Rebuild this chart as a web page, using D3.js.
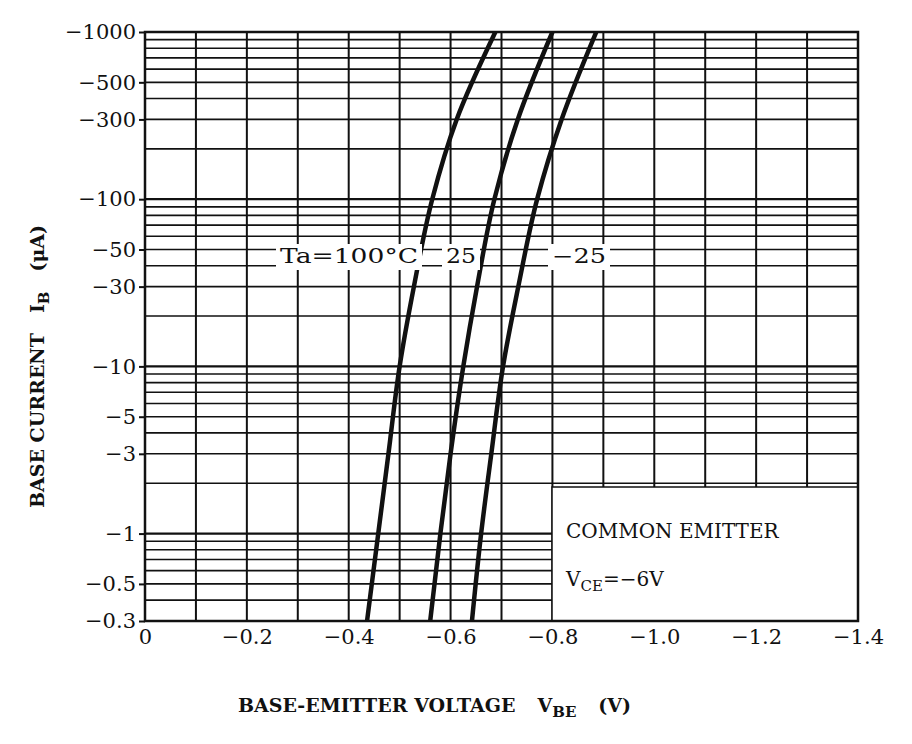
<!DOCTYPE html><html><head><meta charset="utf-8"><script src="https://cdn.jsdelivr.net/npm/d3@7"></script>
<style>body{margin:0;background:#fff}text{font-family:"DejaVu Serif","Liberation Serif",serif;fill:#111;white-space:pre}</style></head><body>
<svg id="c" width="912" height="744"></svg>
<script>
const xTicks=[0,-0.2,-0.4,-0.6,-0.8,-1.0,-1.2,-1.4];
const xTickLabels=["0","−0.2","−0.4","−0.6","−0.8","−1.0","−1.2","−1.4"];
const yTicks=[0.3,0.5,1,3,5,10,30,50,100,300,500,1000];
const yTickLabels=["−0.3","−0.5","−1","−3","−5","−10","−30","−50","−100","−300","−500","−1000"];
const curveI=[0.3,1,3,10,30,100,300,1000];
const v100=[0.436,0.458,0.478,0.50,0.528,0.564,0.612,0.688];
const v25=[0.56,0.58,0.600,0.625,0.652,0.686,0.732,0.80];
const vm25=[0.642,0.660,0.680,0.703,0.733,0.770,0.818,0.886];
const series=[v100,v25,vm25];
const svg=d3.select("#c");
const L=145,R=858,T=32,B=621;
const x=d3.scaleLinear().domain([0,1.4]).range([L,R]);
const y=d3.scaleLog().domain([0.3,1000]).range([B,T]);
const g=svg.append("g");
for(let v=0.1;v<1.4;v+=0.1) g.append("line").attr("x1",x(v)).attr("x2",x(v)).attr("y1",T).attr("y2",B).attr("stroke","#111").attr("stroke-width",2);
const minors=[];[0.1,1,10,100].forEach(d=>{for(let k=1;k<10;k++){const v=d*k;if(v>=0.3&&v<=1000)minors.push(v);}});minors.push(1000);
minors.forEach(v=>g.append("line").attr("x1",L).attr("x2",R).attr("y1",y(v)).attr("y2",y(v)).attr("stroke","#111").attr("stroke-width",v===1||v===10||v===100?2.2:1.6));
g.append("rect").attr("x",552).attr("y",487).attr("width",R-552).attr("height",B-487).attr("fill","#fff").attr("stroke","#111").attr("stroke-width",1.5);
g.append("rect").attr("x",L).attr("y",T).attr("width",R-L).attr("height",B-T).attr("fill","none").attr("stroke","#111").attr("stroke-width",2.5);
const line=d3.line().x(d=>x(d)).y((d,i)=>y(curveI[i])).curve(d3.curveMonotoneY);
series.forEach(s=>g.append("path").attr("d",line(s)).attr("fill","none").attr("stroke","#111").attr("stroke-width",4.5));
function lab(t,xx,yy,w){g.append("rect").attr("x",xx-4).attr("y",yy-19).attr("width",w).attr("height",26).attr("fill","#fff");g.append("text").attr("x",xx).attr("y",yy).attr("font-size",20).attr("textLength",w-8).attr("lengthAdjust","spacingAndGlyphs").text(t);}
lab("Ta=100°C",280,263,146);lab("25",446,263,38);lab("−25",552,263,62);
svg.append("g").attr("transform",`translate(0,${B})`).call(d3.axisBottom(x).tickValues(xTicks.map(Math.abs)).tickFormat((d,i)=>xTickLabels[i]).tickSize(0).tickPadding(8)).call(a=>{a.select(".domain").remove();a.selectAll("text").attr("font-size",21).attr("font-family","DejaVu Serif,serif").attr("fill","#111")});
svg.append("g").attr("transform",`translate(${L},0)`).call(d3.axisLeft(y).tickValues(yTicks).tickFormat((d,i)=>yTickLabels[i]).tickSize(6).tickPadding(3)).call(a=>{a.select(".domain").remove();a.selectAll("line").attr("stroke","#111").attr("stroke-width",2);a.selectAll("text").attr("font-size",21).attr("font-family","DejaVu Serif,serif").attr("fill","#111")});
svg.append("text").attr("x",566).attr("y",538).attr("font-size",20).text("COMMON EMITTER");
const t2=svg.append("text").attr("x",566).attr("y",586).attr("font-size",20);
t2.append("tspan").text("V");t2.append("tspan").attr("font-size",15).attr("dy",5).text("CE");t2.append("tspan").attr("dy",-5).text("=−6V");
const xt=svg.append("text").attr("x",238).attr("y",712).attr("font-size",19).attr("font-weight","bold");
xt.append("tspan").text("BASE-EMITTER VOLTAGE");xt.append("tspan").attr("dx",22).text("V");xt.append("tspan").attr("font-size",15).attr("dy",5).text("BE");xt.append("tspan").attr("dy",-5).attr("dx",22).text("(V)");
const yt=svg.append("text").attr("transform","translate(44,508) rotate(-90)").attr("font-size",19).attr("font-weight","bold");
yt.append("tspan").text("BASE CURRENT");yt.append("tspan").attr("dx",20).text("I");yt.append("tspan").attr("font-size",15).attr("dy",5).text("B");yt.append("tspan").attr("dy",-5).attr("dx",20).text("(μA)");
</script></body></html>
